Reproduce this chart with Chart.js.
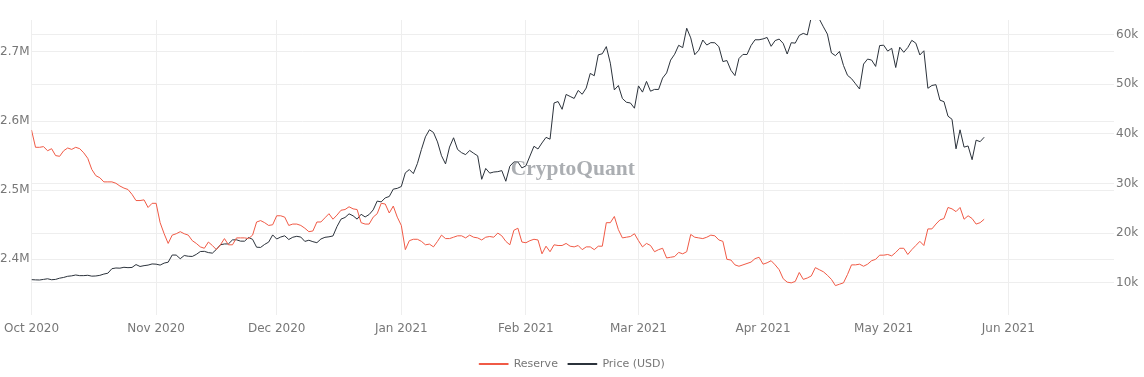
<!DOCTYPE html>
<html lang="en">
<head>
<meta charset="UTF-8">
<title>Reserve vs Price (USD)</title>
<script src="https://cdn.jsdelivr.net/npm/chart.js"></script>
<style>
  body { margin: 0; background: #fff; }
  #wrap { width: 1144px; height: 377px; }
</style>
</head>
<body>
<div id="wrap"><canvas id="chart" width="1144" height="377"></canvas></div>
<script>
// daily values, first point = startDate
const startDate = '2020-10-01';

// exchange reserve, millions
const reserveMillions = [
  2.587, 2.562, 2.562, 2.563, 2.557, 2.560, 2.550, 2.549, 2.557, 2.561,
  2.559, 2.562, 2.560, 2.554, 2.546, 2.530, 2.521, 2.518, 2.512, 2.512,
  2.512, 2.510, 2.506, 2.503, 2.501, 2.494, 2.485, 2.485, 2.486, 2.475, 2.481,
  2.481, 2.453, 2.437, 2.423, 2.435, 2.437, 2.440, 2.437, 2.435, 2.427,
  2.423, 2.418, 2.416, 2.425, 2.420, 2.414, 2.421, 2.430, 2.421, 2.421,
  2.431, 2.431, 2.431, 2.430, 2.435, 2.454, 2.456, 2.453, 2.449, 2.450,
  2.463, 2.463, 2.461, 2.449, 2.451, 2.451, 2.449, 2.445, 2.440, 2.441,
  2.454, 2.454, 2.460, 2.466, 2.458, 2.464, 2.471, 2.472, 2.476, 2.473,
  2.472, 2.453, 2.451, 2.451, 2.461, 2.466, 2.481, 2.480, 2.467, 2.477, 2.461,
  2.449, 2.414, 2.427, 2.429, 2.429, 2.426, 2.421, 2.422, 2.418, 2.426,
  2.435, 2.430, 2.430, 2.432, 2.434, 2.434, 2.431, 2.435, 2.432, 2.431,
  2.428, 2.432, 2.433, 2.432, 2.438, 2.434, 2.426, 2.421, 2.442, 2.445, 2.425,
  2.424, 2.427, 2.429, 2.428, 2.408, 2.419, 2.411, 2.421, 2.420, 2.420,
  2.423, 2.419, 2.418, 2.420, 2.414, 2.418, 2.418, 2.414, 2.419, 2.419,
  2.453, 2.453, 2.462, 2.443, 2.431, 2.432, 2.433, 2.437,
  2.427, 2.418, 2.423, 2.420, 2.411, 2.414, 2.416, 2.402, 2.403, 2.404,
  2.410, 2.408, 2.411, 2.436, 2.432, 2.431, 2.430, 2.432, 2.435, 2.434,
  2.428, 2.426, 2.400, 2.399, 2.392, 2.390, 2.392, 2.394, 2.396, 2.401, 2.403,
  2.393, 2.395, 2.398, 2.392, 2.385, 2.372, 2.367, 2.366, 2.368, 2.381,
  2.371, 2.373, 2.376, 2.388, 2.385, 2.382, 2.377, 2.371, 2.362, 2.364,
  2.366, 2.378, 2.392, 2.392, 2.393, 2.390, 2.393, 2.398, 2.400, 2.406,
  2.406, 2.407, 2.405, 2.410, 2.416, 2.416, 2.407, 2.414, 2.420, 2.426,
  2.420, 2.444, 2.444, 2.451, 2.457, 2.459, 2.475, 2.473, 2.469, 2.475,
  2.458, 2.463, 2.459, 2.451, 2.453, 2.458
];

// BTC price, USD
const priceUsd = [
  10619, 10575, 10549, 10669, 10793, 10604, 10668, 10915, 11064, 11296,
  11384, 11555, 11425, 11429, 11495, 11322, 11358, 11483, 11742, 11917,
  12824, 12965, 12931, 13108, 13031, 13075, 13654, 13271, 13437, 13546, 13781,
  13737, 13551, 13950, 14133, 15579, 15565, 14833, 15480, 15332, 15291,
  15701, 16277, 16318, 16068, 15955, 16716, 17645, 17804, 17817, 18621,
  18642, 18370, 18364, 19107, 18733, 17150, 17109, 17717, 18177, 19625,
  18802, 19201, 19445, 18699, 19154, 19345, 19191, 18321, 18553, 18264,
  18058, 18803, 19142, 19246, 19417, 21310, 22805, 23137, 23869, 23477,
  22803, 23783, 23241, 23735, 24664, 26437, 26272, 27084, 27362, 28841, 29001,
  29374, 32127, 32782, 31971, 33992, 36824, 39371, 40797, 40254, 38356,
  35566, 33922, 37316, 39187, 36825, 36178, 35791, 36630, 36069, 35547,
  30825, 33005, 32067, 32289, 32366, 32569, 30432, 33466, 34316, 34317, 33115,
  33537, 35510, 37473, 36926, 38144, 39266, 38903, 46196, 46481, 44918,
  47909, 47504, 47105, 48717, 47945, 49199, 52149, 51679, 55888, 56100,
  57539, 54207, 48824, 49705, 47093, 46339, 46188, 45137,
  49631, 48378, 50538, 48562, 48927, 48912, 51206, 52246, 54824, 56008,
  57805, 57332, 61243, 59302, 55907, 56804, 58870, 57858, 58346, 58313,
  57524, 54529, 54738, 52775, 51704, 55137, 55974, 55947, 57750, 58918, 58918,
  59095, 59384, 57604, 58758, 59057, 58192, 56048, 58323, 58245, 59794,
  60204, 59893, 63504, 62985, 63075, 61526, 60058, 56274, 55715, 56573,
  53746, 51762, 51093, 50051, 49004, 54022, 55033, 54824, 53555, 57750,
  57828, 56631, 57200, 53333, 57424, 56396, 57357, 58803, 58232, 55859,
  56704, 49150, 49716, 49880, 46760, 46456, 43537, 42909, 36964, 40784,
  37304, 37536, 34770, 38705, 38402, 39295
];

const monthTickDates = ['2020-10-01', '2020-11-01', '2020-12-01', '2021-01-01', '2021-02-01',
  '2021-03-01', '2021-04-01', '2021-05-01', '2021-06-01'];
const monthTickLabels = ['Oct 2020', 'Nov 2020', 'Dec 2020', 'Jan 2021', 'Feb 2021',
  'Mar 2021', 'Apr 2021', 'May 2021', 'Jun 2021'];

const reserveTicks = [2.4, 2.5, 2.6, 2.7];
const reserveTickLabels = ['2.4M', '2.5M', '2.6M', '2.7M'];
const priceTicks = [10000, 20000, 30000, 40000, 50000, 60000];
const priceTickLabels = ['10k', '20k', '30k', '40k', '50k', '60k'];

const dayOf = d => (Date.parse(d) - Date.parse(startDate)) / 864e5;

const tickFont = { family: '"DejaVu Sans", Verdana, sans-serif', size: 12 };
const tickColor = '#777';
const gridColor = '#eeeeee';

// watermark in the middle of the plot
const watermark = {
  id: 'watermark',
  afterLayout(chart) {
    // nudge legend a little lower
    const l = chart.legend;
    if (l) { l.top += 2.5; l.bottom += 2.5; }
  },
  afterDatasetsDraw(chart) {
    const { ctx, chartArea: a } = chart;
    ctx.save();
    ctx.font = 'bold 21.5px "Liberation Serif", "DejaVu Serif", serif';
    ctx.fillStyle = 'rgba(150, 154, 159, 0.8)';
    ctx.textAlign = 'center';
    ctx.textBaseline = 'middle';
    ctx.fillText('CryptoQuant', (a.left + a.right) / 2, (a.top + a.bottom) / 2 + 2);
    ctx.restore();
  }
};

new Chart(document.getElementById('chart'), {
  type: 'line',
  data: {
    datasets: [{
      label: 'Reserve',
      data: reserveMillions.map((v, i) => ({ x: i, y: v })),
      borderColor: '#f05a46',
      backgroundColor: '#f05a46',
      borderWidth: 1,
      pointRadius: 0,
      tension: 0,
      yAxisID: 'y'
    }, {
      label: 'Price (USD)',
      data: priceUsd.map((v, i) => ({ x: i, y: v })),
      borderColor: '#2b323b',
      backgroundColor: '#2b323b',
      borderWidth: 1,
      pointRadius: 0,
      tension: 0,
      yAxisID: 'y1'
    }]
  },
  options: {
    responsive: false,
    animation: false,
    layout: { padding: { top: 20, left: 0, right: 0, bottom: 0 } },
    plugins: {
      tooltip: { enabled: false },
      legend: {
        position: 'bottom',
        labels: {
          boxWidth: 29,
          boxHeight: 1,
          padding: 10,
          color: tickColor,
          font: { family: '"DejaVu Sans", Verdana, sans-serif', size: 11 }
        }
      }
    },
    scales: {
      x: {
        type: 'linear',
        min: 0,
        max: 269.3,
        afterBuildTicks: s => { s.ticks = monthTickDates.map(d => ({ value: dayOf(d) })); },
        afterFit: s => { s.height = 31; s.paddingLeft = 0; s.paddingRight = 0; },
        ticks: {
          autoSkip: false,
          maxRotation: 0,
          padding: 7,
          color: tickColor,
          font: tickFont,
          callback: (v, i) => monthTickLabels[i]
        },
        grid: { color: gridColor, drawTicks: false },
        border: { display: false }
      },
      y: {
        position: 'left',
        min: 2.3195,
        max: 2.7461,
        afterBuildTicks: s => { s.ticks = reserveTicks.map(v => ({ value: v })); },
        afterFit: s => { s.width = 31.5; },
        ticks: {
          padding: 2,
          color: tickColor,
          font: tickFont,
          callback: (v, i) => reserveTickLabels[i]
        },
        grid: { color: gridColor, drawTicks: false },
        border: { display: false }
      },
      y1: {
        position: 'right',
        min: 3500,
        max: 62900,
        afterBuildTicks: s => { s.ticks = priceTicks.map(v => ({ value: v })); },
        afterFit: s => { s.width = 30; },
        ticks: {
          padding: 2,
          color: tickColor,
          font: tickFont,
          callback: (v, i) => priceTickLabels[i]
        },
        grid: { color: gridColor, drawTicks: false },
        border: { display: false }
      }
    }
  },
  plugins: [watermark]
});
</script>
</body>
</html>
